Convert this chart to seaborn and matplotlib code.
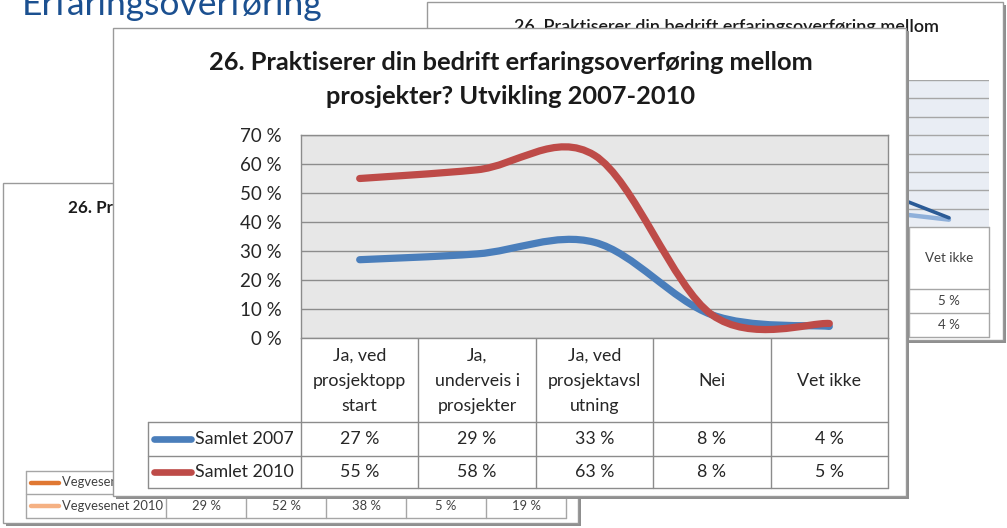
import numpy as np
import pandas as pd
import matplotlib
matplotlib.use("Agg")
import matplotlib.pyplot as plt
import seaborn as sns
from matplotlib.path import Path
from matplotlib.patches import PathPatch, Rectangle

# ---------------- data ----------------
categories = ["Ja, ved\nprosjektopp\nstart", "Ja,\nunderveis i\nprosjekter",
              "Ja, ved\nprosjektavsl\nutning", "Nei", "Vet ikke"]
series_names = ["Samlet 2007", "Samlet 2010"]
samlet_2007 = [27, 29, 33, 8, 4]
samlet_2010 = [55, 58, 63, 8, 5]
y_ticks = [0, 10, 20, 30, 40, 50, 60, 70]
main_title = ["26. Praktiserer din bedrift erfaringsoverføring mellom",
              "prosjekter? Utvikling 2007-2010"]
slide_title = "Erfaringsoverføring"

# background (partly hidden) slides
back_right_title = "26. Praktiserer din bedrift erfaringsoverføring mellom"
back_right_categories = ["Nei", "Vet ikke"]
back_right_names = ["Serie A", "Serie B"]
back_right_a = [22, 5]
back_right_b = [9, 4]
back_right_ticks = [0, 10, 20, 30, 40, 50, 60, 70, 80]

back_left_title = "26. Pr"          # only this part is visible behind the front card
back_left_names = ["Vegvesenet 2007", "Vegvesenet 2010"]
vegvesenet_2010 = [29, 52, 38, 5, 19]

# ---------------- setup ----------------
W, H = 1007, 528
sns.set_style("white")
plt.rcParams["font.family"] = ["Lato", "DejaVu Sans"]

fig = plt.figure(figsize=(W / 100, H / 100), dpi=100)
fig.patch.set_facecolor("white")


def rect(x0, y0, x1, y1):
    return [x0 / W, 1 - y1 / H, (x1 - x0) / W, (y1 - y0) / H]


def pixel_axes(z):
    ax = fig.add_axes([0, 0, 1, 1], zorder=z)
    ax.set_xlim(0, W)
    ax.set_ylim(H, 0)
    ax.axis("off")
    return ax


def smooth_path(xs, ys):
    pts = np.column_stack([xs, ys]).astype(float)
    n = len(pts)
    verts = [pts[0]]
    codes = [Path.MOVETO]
    for i in range(n - 1):
        p0 = pts[max(i - 1, 0)]
        p1 = pts[i]
        p2 = pts[i + 1]
        p3 = pts[min(i + 2, n - 1)]
        verts += [p1 + (p2 - p0) / 6, p2 - (p3 - p1) / 6, p2]
        codes += [Path.CURVE4] * 3
    return Path(verts, codes)


def card(ax, x0, y0, x1, y1, z=1):
    ax.add_patch(Rectangle((x0 + 3, y0 + 3), x1 - x0, y1 - y0, facecolor="#8f8f8f",
                           edgecolor="none", zorder=z))
    ax.add_patch(Rectangle((x0, y0), x1 - x0, y1 - y0, facecolor="white",
                           edgecolor="#9a9a9a", lw=1.0, zorder=z + 0.1))


GRID = "#8c8c8c"
TXT = "#262626"

# ---------------- layer 0: background slides ----------------
bg = pixel_axes(0)
bg.text(22, 15, slide_title, fontsize=25.5, fontweight="normal", color="#1b5090",
        ha="left", va="baseline")

# back right card
card(bg, 427, 2, 1003, 340)
bg.text(939, 32, back_right_title, fontsize=13, fontweight="semibold", color="#1a1a1a",
        ha="right", va="baseline", zorder=3)
br_edges = [829, 909, 989]
for y in [227, 289, 313, 337]:
    bg.plot([br_edges[0], br_edges[-1]], [y, y], color="#a6a6a6", lw=1, zorder=3)
for x in br_edges[1:]:
    bg.plot([x, x], [227, 337], color="#a6a6a6", lw=1, zorder=3)
for i, cat in enumerate(back_right_categories):
    cx = (br_edges[i] + br_edges[i + 1]) / 2
    bg.text(cx, 258, cat, fontsize=9.6, color="#404040", ha="center", va="center", zorder=3)
    bg.text(cx, 301, f"{back_right_a[i]} %", fontsize=9.6, color="#404040",
            ha="center", va="center", zorder=3)
    bg.text(cx, 325, f"{back_right_b[i]} %", fontsize=9.6, color="#404040",
            ha="center", va="center", zorder=3)

# back left card
card(bg, 3, 183, 578, 523)
bg.text(68, 213, back_left_title, fontsize=12.3, fontweight="bold", color="#1a1a1a",
        ha="left", va="baseline", zorder=3)
bl_edges = [26, 166, 246, 326, 406, 486, 566]
bl_rows = [471, 494, 518]
for y in bl_rows:
    bg.plot([bl_edges[0], bl_edges[-1]], [y, y], color="#a6a6a6", lw=1, zorder=3)
for x in bl_edges:
    bg.plot([x, x], [bl_rows[0], bl_rows[-1]], color="#a6a6a6", lw=1, zorder=3)
bl_colors = ["#e07832", "#f5b183"]
for r, name in enumerate(back_left_names):
    cy = (bl_rows[r] + bl_rows[r + 1]) / 2
    bg.plot([31, 59], [cy, cy], color=bl_colors[r], lw=3.2, solid_capstyle="round", zorder=3)
    bg.text(62, cy, name, fontsize=9.4, color="#404040", ha="left", va="center", zorder=3)
for i, v in enumerate(vegvesenet_2010):
    cx = (bl_edges[i + 1] + bl_edges[i + 2]) / 2
    bg.text(cx, (bl_rows[1] + bl_rows[2]) / 2, f"{v} %", fontsize=9.4, color="#404040",
            ha="center", va="center", zorder=3)

# back right plot
axb = fig.add_axes(rect(829, 80, 989, 227), zorder=1)
df_b = pd.DataFrame({
    "pos": list(range(len(back_right_categories))) * 2,
    "andel": back_right_a + back_right_b,
    "serie": [n for n in back_right_names for _ in back_right_categories],
})
sns.lineplot(data=df_b, x="pos", y="andel", hue="serie",
             palette={back_right_names[0]: "#2b5b96", back_right_names[1]: "#8fb0da"},
             legend=False, errorbar=None, sort=False, ax=axb)
for ln, lw in zip(axb.lines, [2.6, 3.2]):
    ln.set_linewidth(lw)
    ln.set_solid_capstyle("round")
axb.lines[0].set_zorder(3)
axb.set_xlim(-0.5, len(back_right_categories) - 0.5)
axb.set_ylim(0, 80)
axb.set_yticks(back_right_ticks)
axb.set_xticks([])
axb.set_facecolor("#e9edf4")
axb.grid(axis="y", color="#a6a6a6", lw=1)
axb.tick_params(left=False, labelleft=False)
axb.set_xlabel("")
axb.set_ylabel("")
for s in axb.spines.values():
    s.set_visible(False)

# ---------------- layer 2: main card ----------------
fg = pixel_axes(2)
card(fg, 113, 28, 906, 496)
for k, line in enumerate(main_title):
    fg.text(511, 62 + 34 * k, line, fontsize=18.3, fontweight="bold", color="#1a1a1a",
            ha="center", va="center", zorder=3)

PL, PR, PT, PB = 301, 888, 135, 338
n = len(categories)
col_edges = [PL + (PR - PL) * i / n for i in range(n + 1)]
row_y = [PB, 422, 456, 488]
TAB_L = 148
for x in col_edges:
    fg.plot([x, x], [PB, row_y[-1]], color=GRID, lw=1, zorder=3)
fg.plot([TAB_L, TAB_L], [row_y[1], row_y[-1]], color=GRID, lw=1, zorder=3)
for y in row_y[1:]:
    fg.plot([TAB_L, PR], [y, y], color=GRID, lw=1, zorder=3)

for i, cat in enumerate(categories):
    cx = (col_edges[i] + col_edges[i + 1]) / 2
    parts = cat.split("\n")
    cy0 = 381 - 25 * (len(parts) - 1) / 2
    for j, p in enumerate(parts):
        fg.text(cx, cy0 + 25 * j, p, fontsize=12.8, color=TXT, ha="center", va="center", zorder=3)

colors = {series_names[0]: "#4a7ebb", series_names[1]: "#be4b48"}
for r, (name, vals) in enumerate(zip(series_names, [samlet_2007, samlet_2010])):
    cy = (row_y[r + 1] + row_y[r + 2]) / 2
    fg.plot([154, 191], [cy, cy], color=colors[name], lw=4.8, solid_capstyle="round", zorder=3)
    fg.text(195, cy, name, fontsize=12.8, color=TXT, ha="left", va="center", zorder=3)
    for i, v in enumerate(vals):
        cx = (col_edges[i] + col_edges[i + 1]) / 2
        fg.text(cx, cy, f"{v} %", fontsize=12.8, color=TXT, ha="center", va="center", zorder=3)

# ---------------- layer 3: main plot ----------------
axm = fig.add_axes(rect(PL, PT, PR, PB), zorder=3)
df = pd.DataFrame({
    "pos": list(range(n)) * 2,
    "andel": samlet_2007 + samlet_2010,
    "serie": [s for s in series_names for _ in range(n)],
})
sns.lineplot(data=df, x="pos", y="andel", hue="serie", palette=colors, linewidth=5.2,
             legend=False, errorbar=None, sort=False, ax=axm)
for ln in list(axm.lines):
    xy = ln.get_xydata()
    col = ln.get_color()
    lw = ln.get_linewidth()
    ln.remove()
    axm.add_patch(PathPatch(smooth_path(xy[:, 0], xy[:, 1]), fill=False, edgecolor=col,
                            lw=lw, capstyle="round", joinstyle="round", zorder=3))
axm.set_xlim(-0.5, n - 0.5)
axm.set_ylim(0, 70)
axm.set_yticks(y_ticks)
axm.set_yticklabels([f"{t} %" for t in y_ticks])
axm.set_xticks([])
axm.set_xlabel("")
axm.set_ylabel("")
axm.set_facecolor("#e7e7e7")
axm.grid(axis="y", color=GRID, lw=1)
axm.tick_params(axis="y", length=0, pad=14, labelsize=13.5, labelcolor=TXT)
for s in axm.spines.values():
    s.set_color(GRID)
    s.set_linewidth(1)

fig.savefig("out.png", dpi=100)
